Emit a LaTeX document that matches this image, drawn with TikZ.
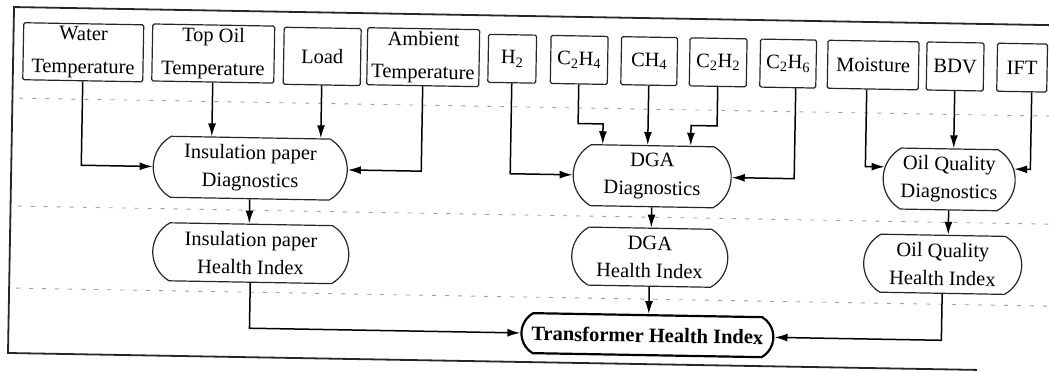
\documentclass[tikz,border=0pt]{standalone}
\usepackage{fontspec}
\setmainfont{Liberation Serif}
\usetikzlibrary{arrows.meta,shapes.misc}

\tikzset{
  inbox/.style={draw=black!85, line width=1.2pt, rounded corners=1.5pt, align=center,
    inner sep=1pt, minimum height=48pt, font=\fontsize{20.5}{33}\selectfont},
  diagbox/.style={rounded rectangle, rounded rectangle arc length=120, draw=black!85,
    line width=1.2pt, align=center, inner sep=1pt, minimum height=61pt,
    font=\fontsize{20.5}{28}\selectfont},
  thibox/.style={diagbox, draw=black, line width=2.2pt, minimum height=40pt,
    font=\fontsize{20.5}{24}\selectfont\bfseries},
  arr/.style={line width=1.5pt, -{Latex[length=13pt,width=8pt]}},
  divider/.style={gray!75, line width=0.9pt, dash pattern=on 4pt off 9pt},
}

\begin{document}
\begin{tikzpicture}[x=1pt, y=-1pt]
  \clip (0,0) rectangle (1049,371);
  \begin{scope}[rotate around={-1:(525,185)}, transform shape]
  % Frame
  \draw[line width=1.8pt, black!85] (1070,16) -- (11,16) -- (11,362) -- (980,362);
  % Level separators
  \foreach \y in {107,215,297} \draw[divider] (18,\y) -- (1070,\y);
  % Measured quantities
  \node[inbox, minimum width=120pt, minimum height=57pt] (water) at (81,60) {Water\\Temperature};
  \node[inbox, minimum width=122pt, minimum height=57pt] (topoil) at (211,59) {Top Oil\\Temperature};
  \node[inbox, minimum width=77pt, minimum height=57pt] (load) at (320,60) {Load};
  \node[inbox, minimum width=112pt, minimum height=57pt] (ambient) at (421,59) {Ambient\\Temperature};
  \node[inbox, minimum width=48pt] (h2) at (510,59) {H\textsubscript{2}};
  \node[inbox, minimum width=57pt] (c2h4) at (577,59) {C\textsubscript{2}H\textsubscript{4}};
  \node[inbox, minimum width=56pt] (ch4) at (647,59) {CH\textsubscript{4}};
  \node[inbox, minimum width=57pt] (c2h2) at (716,59) {C\textsubscript{2}H\textsubscript{2}};
  \node[inbox, minimum width=56pt] (c2h6) at (786,59) {C\textsubscript{2}H\textsubscript{6}};
  \node[inbox, minimum width=91pt] (moist) at (871,59) {Moisture};
  \node[inbox, minimum width=57pt] (bdv) at (953,59) {BDV};
  \node[inbox, minimum width=50pt] (ift) at (1020,59) {IFT};
  % Diagnostics
  \node[diagbox, minimum width=196pt] (insdiag) at (250,173) {Insulation paper\\Diagnostics};
  \node[diagbox, minimum width=160pt] (dgadiag) at (652,174) {DGA\\Diagnostics};
  \node[diagbox, minimum width=134pt] (oqdiag) at (949,172) {Oil Quality\\Diagnostics};
  % Health indices
  \node[diagbox, minimum width=198pt, minimum height=58pt] (inshi) at (252,258) {Insulation paper\\Health Index};
  \node[diagbox, minimum width=158pt, minimum height=58pt] (dgahi) at (651,255) {DGA\\Health Index};
  \node[diagbox, minimum width=160pt, minimum height=58pt] (oqhi) at (944,257) {Oil Quality\\Health Index};
  \node[thibox, minimum width=254pt] (thi) at (650,333) {Transformer Health Index};
  \coordinate (c2h4in) at ([xshift=-50pt]dgadiag.north);
  \coordinate (c2h2in) at ([xshift=38pt]dgadiag.north);
  % Inputs to diagnostics
  \draw[arr] (water.south) |- (insdiag.west);
  \draw[arr] (topoil.south) -- (topoil.south |- insdiag.north);
  \draw[arr] (load.south) -- (load.south |- insdiag.north);
  \draw[arr] (ambient.south) |- (insdiag.east);
  \draw[arr] (h2.south) |- (dgadiag.west);
  \draw[arr] (c2h4.south) -- ++(0,39) -| (c2h4in);
  \draw[arr] (ch4.south) -- (ch4.south |- dgadiag.north);
  \draw[arr] (c2h2.south) -- ++(0,39) -| (c2h2in);
  \draw[arr] ([xshift=8pt]c2h6.south) |- (dgadiag.east);
  \draw[arr] ([xshift=-6pt]moist.south) |- (oqdiag.170);
  \draw[arr] (bdv.south) -- (bdv.south |- oqdiag.north);
  \draw[arr] ([xshift=10pt]ift.south) |- (oqdiag.10);
  % Diagnostics to health indices
  \draw[arr] (insdiag.south) -- (insdiag.south |- inshi.north);
  \draw[arr] (dgadiag.south) -- (dgadiag.south |- dgahi.north);
  \draw[arr] (oqdiag.south) -- (oqdiag.south |- oqhi.north);
  % Health indices to transformer
  \draw[arr] (inshi.south) |- (thi.west);
  \draw[arr] (dgahi.south) -- (dgahi.south |- thi.north);
  \draw[arr] (oqhi.south) |- (thi.east);
  \end{scope}
\end{tikzpicture}
\end{document}
